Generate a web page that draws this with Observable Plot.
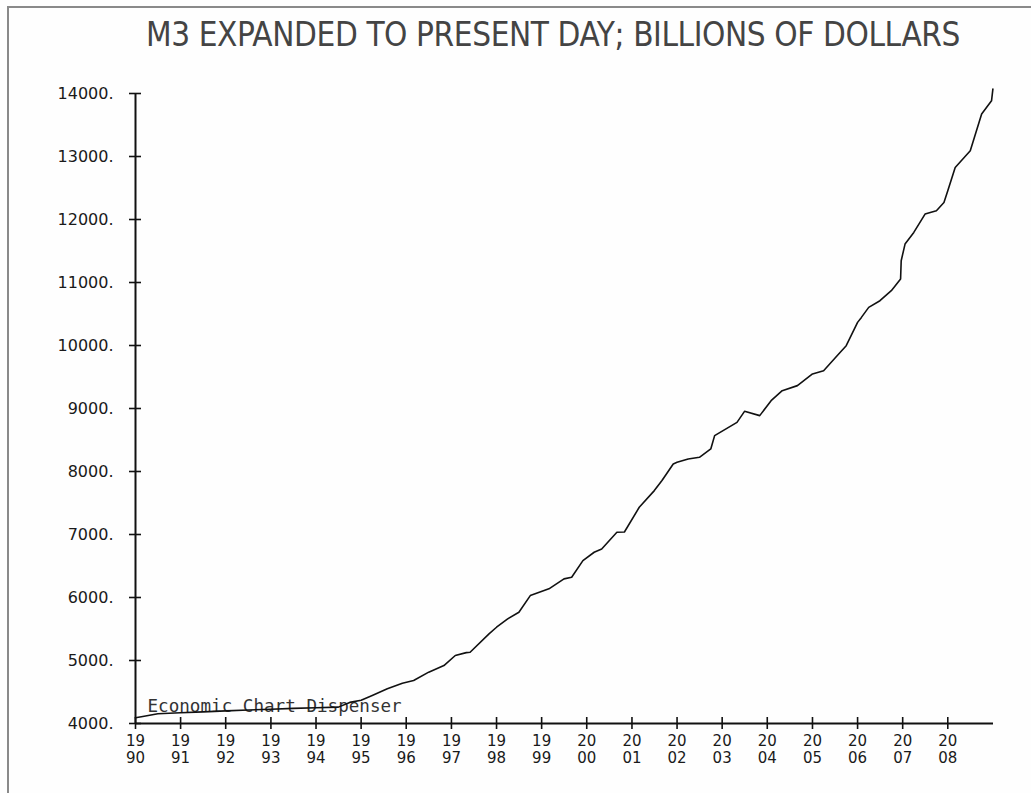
<!DOCTYPE html>
<html>
<head>
<meta charset="utf-8">
<script src="https://cdn.jsdelivr.net/npm/d3@7"></script>
<script src="https://cdn.jsdelivr.net/npm/@observablehq/plot@0.6"></script>
<style>
  html, body { margin: 0; padding: 0; background: #fefefe; }
  body { width: 1031px; height: 793px; position: relative; overflow: hidden; }
  #frame { position: absolute; left: 7px; top: 6px; right: -10px; bottom: -10px;
           border-left: 2px solid #8a8a8a; border-top: 2px solid #8a8a8a; }
  #title { position: absolute; left: 0; width: 1106px; top: 15px; text-align: center;
           font-family: "Liberation Sans Narrow", "DejaVu Sans Condensed", "Liberation Sans", sans-serif;
           font-stretch: condensed; font-size: 33px; color: #444; letter-spacing: -0.4px; white-space: nowrap; }
  #chart { position: absolute; left: 0; top: 60px; }
</style>
</head>
<body>
<div id="frame"></div>
<div id="title">M3 EXPANDED TO PRESENT DAY; BILLIONS OF DOLLARS</div>
<div id="chart"></div>
<script>
const dates = [
  "1990-01-01","1990-03-01","1990-07-01","1991-01-01","1991-07-01","1992-01-01","1992-07-01",
  "1993-01-01","1993-07-01","1994-01-01","1994-07-01","1994-10-01","1995-01-01","1995-04-01",
  "1995-08-01","1995-12-01","1996-03-01","1996-07-01","1996-11-01","1997-02-01","1997-05-01",
  "1997-06-01","1997-11-01","1998-01-01","1998-04-01","1998-07-01","1998-10-01","1999-03-01",
  "1999-07-01","1999-09-01","1999-12-01","2000-03-01","2000-05-01","2000-09-01","2000-11-01",
  "2001-03-01","2001-07-01","2001-09-01","2001-12-01","2002-01-01","2002-04-01","2002-07-01",
  "2002-10-01","2002-11-01","2003-05-01","2003-07-01","2003-11-01","2004-02-01","2004-05-01",
  "2004-09-01","2005-01-01","2005-04-01","2005-08-01","2005-10-01","2006-01-01","2006-02-01",
  "2006-04-01","2006-07-01","2006-10-01","2006-12-15","2006-12-20","2007-01-20","2007-04-01",
  "2007-07-01","2007-10-01","2007-12-01","2008-01-01","2008-03-01","2008-07-01","2008-10-01",
  "2008-12-20","2008-12-31"
];
const m3 = [
  4090, 4110, 4155, 4170, 4185, 4200, 4215,
  4225, 4240, 4250, 4260, 4335, 4370, 4444,
  4550, 4640, 4682, 4815, 4920, 5079, 5125,
  5131, 5423, 5528, 5661, 5766, 6030, 6137,
  6296, 6321, 6586, 6718, 6771, 7035, 7040,
  7432, 7697, 7856, 8120, 8146, 8199, 8225,
  8358, 8569, 8780, 8955, 8887, 9124, 9283,
  9363, 9548, 9600, 9865, 9997, 10367, 10446,
  10605, 10711, 10870, 11055, 11346, 11610, 11795,
  12086, 12140, 12270, 12455, 12826, 13091, 13673,
  13884, 14070
];
const yTicks = [4000, 5000, 6000, 7000, 8000, 9000, 10000, 11000, 12000, 13000, 14000];
const xTickYears = [1990,1991,1992,1993,1994,1995,1996,1997,1998,1999,2000,2001,2002,2003,2004,2005,2006,2007,2008];
const xDomain = ["1990-01-01", "2009-01-05"];
const watermark = "Economic Chart Dispenser";

const data = dates.map((d, i) => ({date: new Date(d + "T00:00:00Z"), value: m3[i]}));
const xTicks = xTickYears.map(y => new Date(Date.UTC(y, 0, 1)));

const chart = Plot.plot({
  width: 1031,
  height: 733,
  marginLeft: 135,
  marginRight: 38,
  marginTop: 33,
  marginBottom: 70,
  style: {background: "transparent", color: "#1a1a1a", overflow: "visible"},
  x: {type: "utc", domain: xDomain.map(d => new Date(d + "T00:00:00Z"))},
  y: {domain: [4000, 14000]},
  marks: [
    Plot.axisX({ticks: xTicks, tickSize: 12, dy: -6, tickFormat: () => "", label: null, stroke: "#111", strokeWidth: 1.6}),
    Plot.axisX({ticks: xTicks, tickSize: 0, tickPadding: 11, label: null,
      tickFormat: d => { const s = String(d.getUTCFullYear()); return s.slice(0, 2) + "\n" + s.slice(2); },
      fontFamily: "DejaVu Sans", fontSize: 15, lineHeight: 1.1, fill: "#1a1a1a"}),
    Plot.axisY({ticks: yTicks, tickSize: 12, dx: 6, tickFormat: () => "", label: null, stroke: "#111", strokeWidth: 1.6}),
    Plot.axisY({ticks: yTicks, tickSize: 0, tickPadding: 22, label: null,
      tickFormat: d => d + ".", fontFamily: "DejaVu Sans", fontSize: 16, fill: "#1a1a1a"}),
    Plot.ruleY([4000], {stroke: "#111", strokeWidth: 2}),
    Plot.ruleX([xTicks[0]], {stroke: "#111", strokeWidth: 2}),
    Plot.text([watermark], {frameAnchor: "bottom-left", dx: 12, dy: -12, lineAnchor: "bottom", textAnchor: "start",
      fontFamily: "DejaVu Sans Mono", fontSize: 17.6, fill: "#333"}),
    Plot.line(data, {x: "date", y: "value", stroke: "#111", strokeWidth: 1.6})
  ]
});
document.getElementById("chart").appendChild(chart);
</script>
</body>
</html>
